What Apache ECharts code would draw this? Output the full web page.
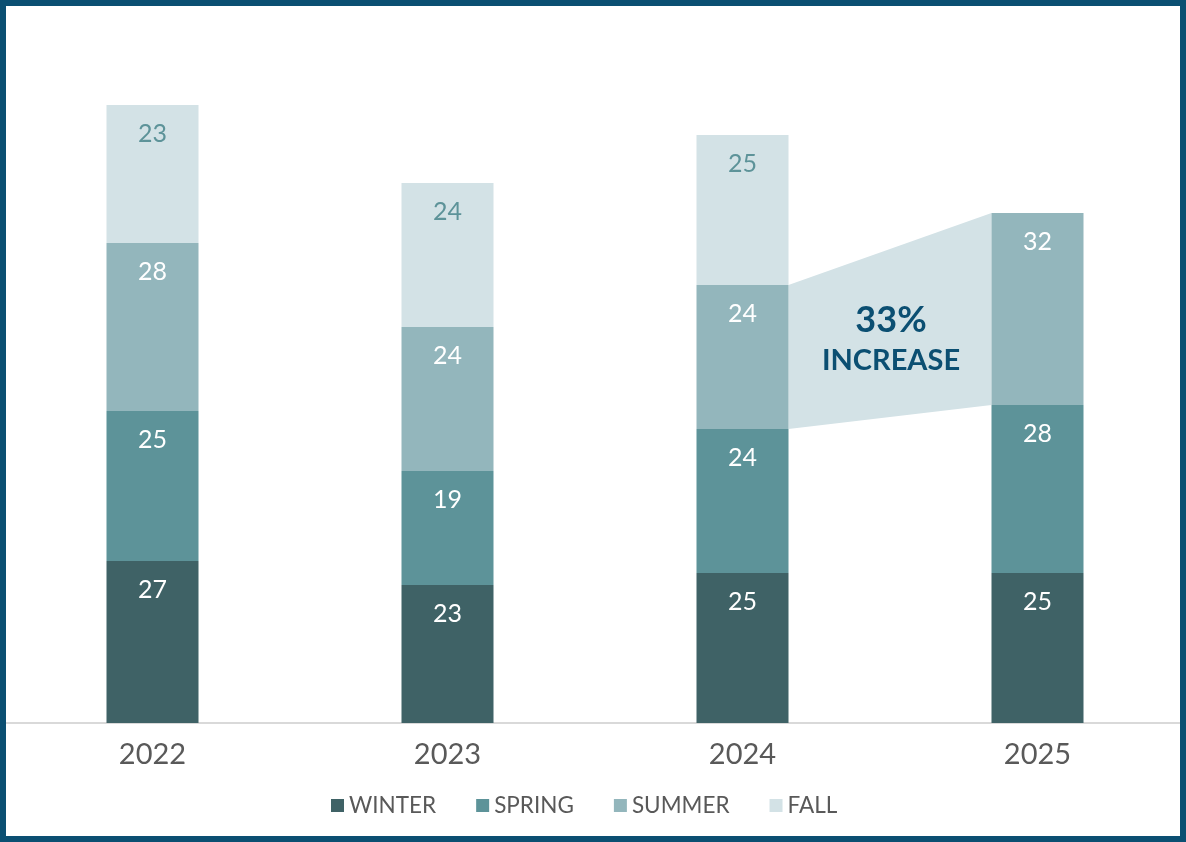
<!DOCTYPE html>
<html>
<head>
<meta charset="utf-8">
<script src="https://cdn.jsdelivr.net/npm/echarts@6/dist/echarts.min.js"></script>
<style>
  html, body { margin: 0; padding: 0; background: #fff; }
  #chart { width: 1186px; height: 842px; }
</style>
</head>
<body>
<div id="chart"></div>
<script>
// Seasonal counts per year
const years = ['2022', '2023', '2024', '2025'];
const winter = [27, 23, 25, 25];
const spring = [25, 19, 24, 28];
const summer = [28, 24, 24, 32];
const fall = [23, 24, 25, null];
const seasonNames = ['WINTER', 'SPRING', 'SUMMER', 'FALL'];

const colors = ['#3f6266', '#5d9399', '#93b6bc', '#d3e2e6'];
const labelColors = ['#ffffff', '#ffffff', '#ffffff', '#5d9399'];
const FONT = 'Lato, "Open Sans", sans-serif';
const BAR_W = 92;

// Summer comparison between 2024 and 2025
const fromIdx = 2, toIdx = 3;
const pct = Math.round((summer[toIdx] - summer[fromIdx]) / summer[fromIdx] * 100);

const chart = echarts.init(document.getElementById('chart'), null, { renderer: 'canvas' });

function barSeries(name, data, i) {
  return {
    name: name,
    type: 'bar',
    stack: 'total',
    data: data,
    barWidth: BAR_W,
    itemStyle: { color: colors[i] },
    label: {
      show: true,
      position: 'insideTop',
      distance: 16,
      color: labelColors[i],
      fontFamily: FONT,
      fontSize: 25
    },
    z: 3
  };
}

const base = (i) => winter[i] + spring[i];

const option = {
  animation: false,
  backgroundColor: '#ffffff',
  grid: { left: 5, right: 1, top: 63, bottom: 119 },
  legend: {
    data: seasonNames,
    left: 326,
    top: 789,
    itemWidth: 13,
    itemHeight: 13,
    itemGap: 40,
    icon: 'rect',
    textStyle: { color: '#595959', fontFamily: FONT, fontSize: 22.5 }
  },
  xAxis: {
    type: 'category',
    data: years,
    axisTick: { show: false },
    axisLine: { lineStyle: { color: '#d9d9d9', width: 2 } },
    axisLabel: { color: '#595959', fontFamily: FONT, fontSize: 29, margin: 17 }
  },
  yAxis: {
    type: 'value',
    min: 0,
    max: 110,
    show: false,
    splitLine: { show: false }
  },
  series: [
    barSeries(seasonNames[0], winter, 0),
    barSeries(seasonNames[1], spring, 1),
    barSeries(seasonNames[2], summer, 2),
    barSeries(seasonNames[3], fall, 3),
    {
      type: 'custom',
      name: 'summer-change',
      data: [[fromIdx, toIdx]],
      z: 1,
      silent: true,
      renderItem: function (params, api) {
        const a = api.value(0), b = api.value(1);
        const aTop = api.coord([a, base(a) + summer[a]]);
        const aBot = api.coord([a, base(a)]);
        const bTop = api.coord([b, base(b) + summer[b]]);
        const bBot = api.coord([b, base(b)]);
        const x0 = aTop[0] + BAR_W / 2;
        const x1 = bTop[0] - BAR_W / 2;
        const cx = (x0 + x1) / 2;
        const cy = (aTop[1] + aBot[1] + bTop[1] + bBot[1]) / 4;
        return {
          type: 'group',
          children: [
            {
              type: 'polygon',
              shape: { points: [[x0, aTop[1]], [x1, bTop[1]], [x1, bBot[1]], [x0, aBot[1]]] },
              style: { fill: colors[3] }
            },
            {
              type: 'text',
              style: {
                x: cx + 1, y: cy - 13, text: pct + '%',
                fill: '#0b4f72', font: 'bold 36px ' + FONT,
                textAlign: 'center', textVerticalAlign: 'middle'
              }
            },
            {
              type: 'text',
              style: {
                x: cx + 1, y: cy + 28, text: 'INCREASE',
                fill: '#0b4f72', font: 'bold 29px ' + FONT,
                textAlign: 'center', textVerticalAlign: 'middle'
              }
            }
          ]
        };
      }
    }
  ],
  graphic: [
    {
      type: 'rect',
      z: 100,
      shape: { x: 3, y: 3, width: 1180, height: 836 },
      style: { fill: 'none', stroke: '#0b4f72', lineWidth: 6 }
    }
  ]
};

chart.setOption(option);
</script>
</body>
</html>
